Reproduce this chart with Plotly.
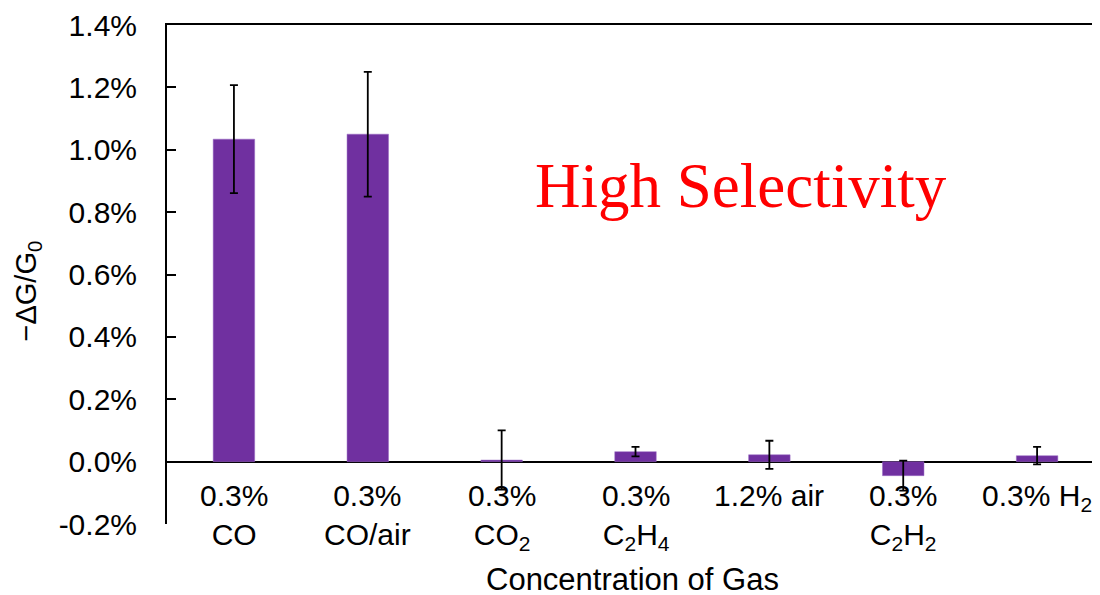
import plotly.graph_objects as go

# ---- data ----
categories = ["0.3%<br>CO", "0.3%<br>CO/air", "0.3%<br>CO<sub>2</sub>", "0.3%<br>C<sub>2</sub>H<sub>4</sub>",
              "1.2% air", "0.3%<br>C<sub>2</sub>H<sub>2</sub>", "0.3% H<sub>2</sub>"]
values = [1.034, 1.05, 0.005, 0.032, 0.022, -0.045, 0.019]      # -ΔG/G0 in %
errors = [0.173, 0.20, 0.095, 0.015, 0.045, 0.048, 0.028]       # ± error in %
ytick_vals = [-0.2, 0.0, 0.2, 0.4, 0.6, 0.8, 1.0, 1.2, 1.4]
ytick_text = ["-0.2%", "0.0%", "0.2%", "0.4%", "0.6%", "0.8%", "1.0%", "1.2%", "1.4%"]

FONT = "Liberation Sans, Arial, sans-serif"
x_idx = list(range(len(categories)))

fig = go.Figure()
fig.add_trace(go.Bar(
    x=x_idx, y=values, width=0.31,
    marker=dict(color="#7030A0", line=dict(color="#9a6cc4", width=0.5)),
    error_y=dict(type="data", array=errors, visible=True, color="black", thickness=1.8, width=4),
    showlegend=False,
))
# invisible trace for the right-hand tick axis
fig.add_trace(go.Scatter(x=[None], y=[None], yaxis="y2", showlegend=False, hoverinfo="skip"))

fig.update_layout(
    width=1092, height=587,
    margin=dict(l=159, r=0, t=17, b=71),
    paper_bgcolor="white", plot_bgcolor="white",
    font=dict(family=FONT, color="black", size=30),
    xaxis=dict(range=[-0.5, 6.47], showticklabels=False, ticks="", showgrid=False, zeroline=False,
               showline=True, side="top", linecolor="black", linewidth=2),
    yaxis=dict(range=[-0.2, 1.4], tickvals=ytick_vals, ticktext=ytick_text,
               ticks="inside", ticklen=9, tickwidth=2, tickcolor="black",
               showline=True, linecolor="black", linewidth=2, showgrid=False,
               zeroline=True, zerolinecolor="black", zerolinewidth=2,
               ticklabelstandoff=22, ticklabeloverflow="allow", tickfont=dict(size=30)),
    yaxis2=dict(overlaying="y", side="right", matches="y", range=[-0.2, 1.4], tickvals=ytick_vals,
                showticklabels=False, ticks="inside", ticklen=7, tickwidth=2, tickcolor="black",
                showline=False, showgrid=False, zeroline=False),
)

# category labels placed just under the zero line
for i, lab in zip(x_idx, categories):
    fig.add_annotation(x=i, y=0, xref="x", yref="y", text=lab, showarrow=False,
                       yanchor="top", yshift=-15, font=dict(size=30, family=FONT))

fig.add_annotation(x=0.5, y=0, xref="paper", yref="paper", text="Concentration of Gas", showarrow=False,
                   xanchor="center", yanchor="top", xshift=-1, yshift=-37, borderpad=0,
                   font=dict(size=31, family=FONT))

fig.add_annotation(x=0, y=0.5, xref="paper", yref="paper", text="−ΔG/G<sub>0</sub>", showarrow=False,
                   textangle=-90, xanchor="center", yanchor="middle", xshift=-140, yshift=-17,
                   font=dict(size=29, family=FONT))

fig.add_annotation(x=0.615, y=0.678, xref="paper", yref="paper", text="High Selectivity", showarrow=False,
                   xanchor="center", yanchor="middle",
                   font=dict(size=63, family="Liberation Serif, Times New Roman, serif", color="#FF0000"))

fig.write_html("out.html")
